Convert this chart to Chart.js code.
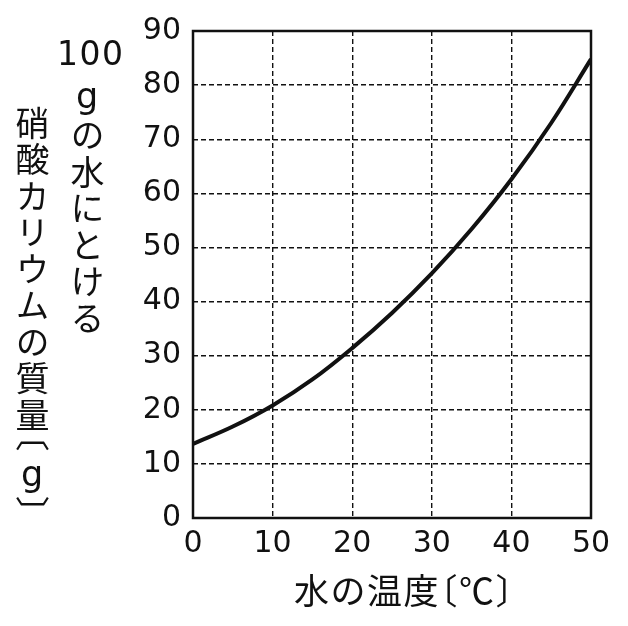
<!DOCTYPE html>
<html lang="ja">
<head>
    <meta charset="UTF-8">
    <title>硝酸カリウムの溶解度</title>
    <script src="https://cdn.jsdelivr.net/npm/chart.js"></script>
    <style>
        body { margin: 0; background: #fff; }
        .wrap { position: relative; width: 628px; height: 626px; }
        .ytitle {
            position: absolute;
            font-family: "Noto Sans CJK JP", sans-serif;
            font-size: 34px;
            line-height: 36px;
            width: 36px;
            color: #111;
            writing-mode: vertical-rl;
            text-orientation: upright;
            letter-spacing: 2.5px;
            white-space: nowrap;
        }
        .ytitle .meia { font-feature-settings: "vhal" 1; }
        .latim { font-family: "DejaVu Sans", sans-serif; font-size: 35px; }
        .num100 {
            position: absolute;
            left: 57px; top: 37px;
            font-family: "DejaVu Sans", sans-serif;
            font-size: 33px;
            line-height: 33px;
            letter-spacing: 1.5px;
            color: #111;
        }
        .xtitle {
            position: absolute;
            left: 294px; top: 570px;
            font-family: "Noto Sans CJK JP", sans-serif;
            font-size: 35px;
            line-height: 38px;
            letter-spacing: 1.5px;
            color: #111;
            white-space: nowrap;
        }
        .xtitle .meia { font-feature-settings: "halt" 1; }
    </style>
</head>
<body>
<div class="wrap">
    <canvas id="grafico" width="628" height="626"></canvas>
    <div class="num100">100</div>
    <div class="ytitle" style="left: 69px; top: 76px;"><span class="latim">g</span>の水にとける</div>
    <div class="ytitle" style="left: 14px; top: 106px;">硝酸カリウムの質量<span class="meia">〔</span><span class="latim">g</span><span class="meia">〕</span></div>
    <div class="xtitle">水の温度<span class="meia">〔</span>℃<span class="meia">〕</span></div>
</div>

<script>
    // temperatura da água (°C) e massa dissolvida (g)
    var temperaturas = [0, 5, 10, 15, 20, 25, 30, 35, 40, 45, 50];
    var massas = [13.7, 16.9, 20.8, 25.6, 31.4, 37.9, 45.2, 53.4, 62.6, 73.0, 84.8];
    var ticksX = [0, 10, 20, 30, 40, 50];
    var ticksY = [0, 10, 20, 30, 40, 50, 60, 70, 80, 90];

    var pontos = [];
    for (var i = 0; i < temperaturas.length; i++) {
        pontos.push({ x: temperaturas[i], y: massas[i] });
    }

    // moldura preta em volta da área do gráfico
    const moldura = {
        id: 'moldura',
        beforeDatasetsDraw(chart) {
            const a = chart.chartArea;
            const ctx = chart.ctx;
            ctx.save();
            ctx.strokeStyle = '#111';
            ctx.lineWidth = 2.5;
            ctx.strokeRect(a.left, a.top, a.right - a.left, a.bottom - a.top);
            ctx.restore();
        }
    };

    const fonteNum = { family: 'DejaVu Sans', size: 30 };

    new Chart(document.getElementById('grafico'), {
        type: 'line',
        data: {
            datasets: [{
                data: pontos,
                borderColor: '#111',
                borderWidth: 4,
                pointRadius: 0,
                tension: 0.4,
                fill: false
            }]
        },
        options: {
            responsive: false,
            animation: false,
            layout: { padding: { top: 31, right: 37, left: 0, bottom: 0 } },
            plugins: { legend: { display: false }, tooltip: { enabled: false } },
            scales: {
                x: {
                    type: 'linear',
                    min: 0, max: 50,
                    afterBuildTicks: function (s) { s.ticks = ticksX.map(v => ({ value: v })); },
                    afterFit: function (s) { s.height = 108; },
                    grid: { color: '#111', lineWidth: 1.4, drawTicks: false },
                    border: { display: false, dash: [5, 3] },
                    ticks: { color: '#111', font: fonteNum, padding: 8, maxRotation: 0 }
                },
                y: {
                    min: 0, max: 90,
                    afterBuildTicks: function (s) { s.ticks = ticksY.map(v => ({ value: v })); },
                    afterFit: function (s) { s.width = 193; },
                    grid: { color: '#111', lineWidth: 1.4, drawTicks: false },
                    border: { display: false, dash: [5, 3] },
                    ticks: { color: '#111', font: fonteNum, padding: 12 }
                }
            }
        },
        plugins: [moldura]
    });
</script>
</body>
</html>
